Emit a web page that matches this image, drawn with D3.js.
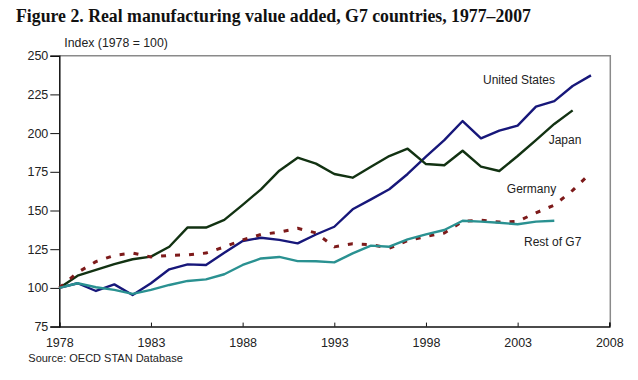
<!DOCTYPE html>
<html><head><meta charset="utf-8">
<script src="https://cdn.jsdelivr.net/npm/d3@7"></script>
<style>
html,body{margin:0;padding:0;background:#fff;}
svg{display:block;}
</style></head>
<body>
<svg id="chart" width="638" height="380"></svg>
<script>
const titleText = "Figure 2. Real manufacturing value added, G7 countries, 1977\u20132007";
const yAxisLabel = "Index (1978 = 100)";
const sourceText = "Source: OECD STAN Database";
const xTicks = [1978, 1983, 1988, 1993, 1998, 2003, 2008];
const yTicks = [75, 100, 125, 150, 175, 200, 225, 250];
const startYear = 1978;

const usValues = [100, 103, 98, 102.3, 95.4, 103, 112, 115.2, 114.8, 122.7, 130.3, 132.4, 131, 128.8, 134.5,
  139.5, 150.8, 157.2, 163.7, 173.6, 184.8, 195.5, 207.8, 196.6, 201.6, 204.8, 217.1, 220.7, 230.4, 237.3];
const japanValues = [100, 107.9, 111.6, 115.4, 118.5, 120.2, 126.6, 139.1, 139, 143.9, 153.6, 163.7, 175.7, 184.1, 180.3,
  173.6, 171.2, 178.3, 185.2, 189.9, 180, 179.2, 188.6, 178.3, 175.5, 185.2, 195.5, 205.9, 214.7];
const germanyValues = [100, 110, 117, 121, 122.5, 120, 121, 121.3, 122.5, 126.5, 131, 134.5, 136, 138.5, 135.5,
  126.5, 128.5, 128, 125.6, 130.5, 133.2, 135.5, 143, 143.8, 142.5, 143, 148.5, 153.5, 163, 174.5];
const restValues = [100, 103, 100.4, 98.7, 96.1, 98.7, 101.9, 104.5, 105.5, 108.8, 114.8, 119, 120, 117.3, 117.2,
  116.5, 122.3, 127.3, 126.6, 131.4, 134.6, 137.4, 143.4, 142.8, 142.1, 141.1, 142.8, 143.4];

const seriesNames = ["United States", "Japan", "Germany", "Rest of G7"];

const series = [
  {name: seriesNames[0], values: usValues, color: "#17177a", dash: null, width: 2.4, lx: 519, ly: 80},
  {name: seriesNames[1], values: japanValues, color: "#123212", dash: null, width: 2.4, lx: 565, ly: 140},
  {name: seriesNames[2], values: germanyValues, color: "#7d1a1a", dash: "5,9", width: 3, lx: 531.5, ly: 188.5},
  {name: seriesNames[3], values: restValues, color: "#2a9191", dash: null, width: 2.4, lx: 552.7, ly: 241.7}
];

const svg = d3.select("#chart");
const pLeft = 59.3, pRight = 609.3, pTop = 55.7, pBottom = 326.6;

const x = d3.scaleLinear().domain([1978, 2008]).range([pLeft, pRight]);
const y = d3.scaleLinear().domain([75, 250]).range([pBottom, pTop]);

// title
svg.append("text")
  .attr("x", 16).attr("y", 21.7)
  .attr("font-family", "'Liberation Serif', 'Times New Roman', serif")
  .attr("font-weight", "bold").attr("font-size", 18)
  .attr("textLength", 515).attr("lengthAdjust", "spacingAndGlyphs")
  .attr("fill", "#111")
  .text(titleText);

svg.append("text")
  .attr("x", 64.3).attr("y", 42.3).attr("dy", "0.35em")
  .attr("font-family", "'Liberation Sans', Arial, sans-serif")
  .attr("font-size", 12.3).attr("fill", "#222")
  .text(yAxisLabel);

// frame (top/right gray)
svg.append("path")
  .attr("d", `M${pLeft},${pTop}H${pRight + 1}V${pBottom}`)
  .attr("fill", "none").attr("stroke", "#8a8a8a").attr("stroke-width", 1.5);

// y axis
const yAxis = d3.axisLeft(y).tickValues(yTicks).tickSize(9).tickPadding(2).tickFormat(d3.format("d"));
const gy = svg.append("g").attr("transform", `translate(${pLeft},0)`).call(yAxis);
gy.select(".domain").attr("stroke", "#111").attr("stroke-width", 1.5);
gy.selectAll(".tick line").attr("stroke", "#111").attr("stroke-width", 1);
gy.selectAll(".tick text").attr("font-family", "'Liberation Sans', Arial, sans-serif")
  .attr("font-size", 12.5).attr("fill", "#222");

// x axis (ticks inward)
const xAxis = d3.axisBottom(x).tickValues(xTicks).tickSize(-4).tickPadding(12).tickFormat(d3.format("d"));
const gx = svg.append("g").attr("transform", `translate(0,${pBottom})`).call(xAxis);
gx.select(".domain").attr("stroke", "#111").attr("stroke-width", 1.5);
gx.selectAll(".tick line").attr("stroke", "#111").attr("stroke-width", 1);
gx.selectAll(".tick text").attr("font-family", "'Liberation Sans', Arial, sans-serif")
  .attr("font-size", 12.5).attr("fill", "#222");

// lines
const line = d3.line().x((d, i) => x(startYear + i)).y(d => y(d));
series.forEach(s => {
  svg.append("path")
    .datum(s.values)
    .attr("d", line)
    .attr("fill", "none")
    .attr("stroke", s.color)
    .attr("stroke-width", s.width)
    .attr("stroke-linejoin", "round")
    .attr("stroke-dasharray", s.dash);
  svg.append("text")
    .attr("x", s.lx).attr("y", s.ly).attr("dy", "0.35em")
    .attr("text-anchor", "middle")
    .attr("font-family", "'Liberation Sans', Arial, sans-serif")
    .attr("font-size", 12).attr("fill", "#222")
    .text(s.name);
});

svg.append("text")
  .attr("x", 28.3).attr("y", 358).attr("dy", "0.35em")
  .attr("font-family", "'Liberation Sans', Arial, sans-serif")
  .attr("font-size", 11).attr("fill", "#222")
  .text(sourceText);
</script>
</body></html>
